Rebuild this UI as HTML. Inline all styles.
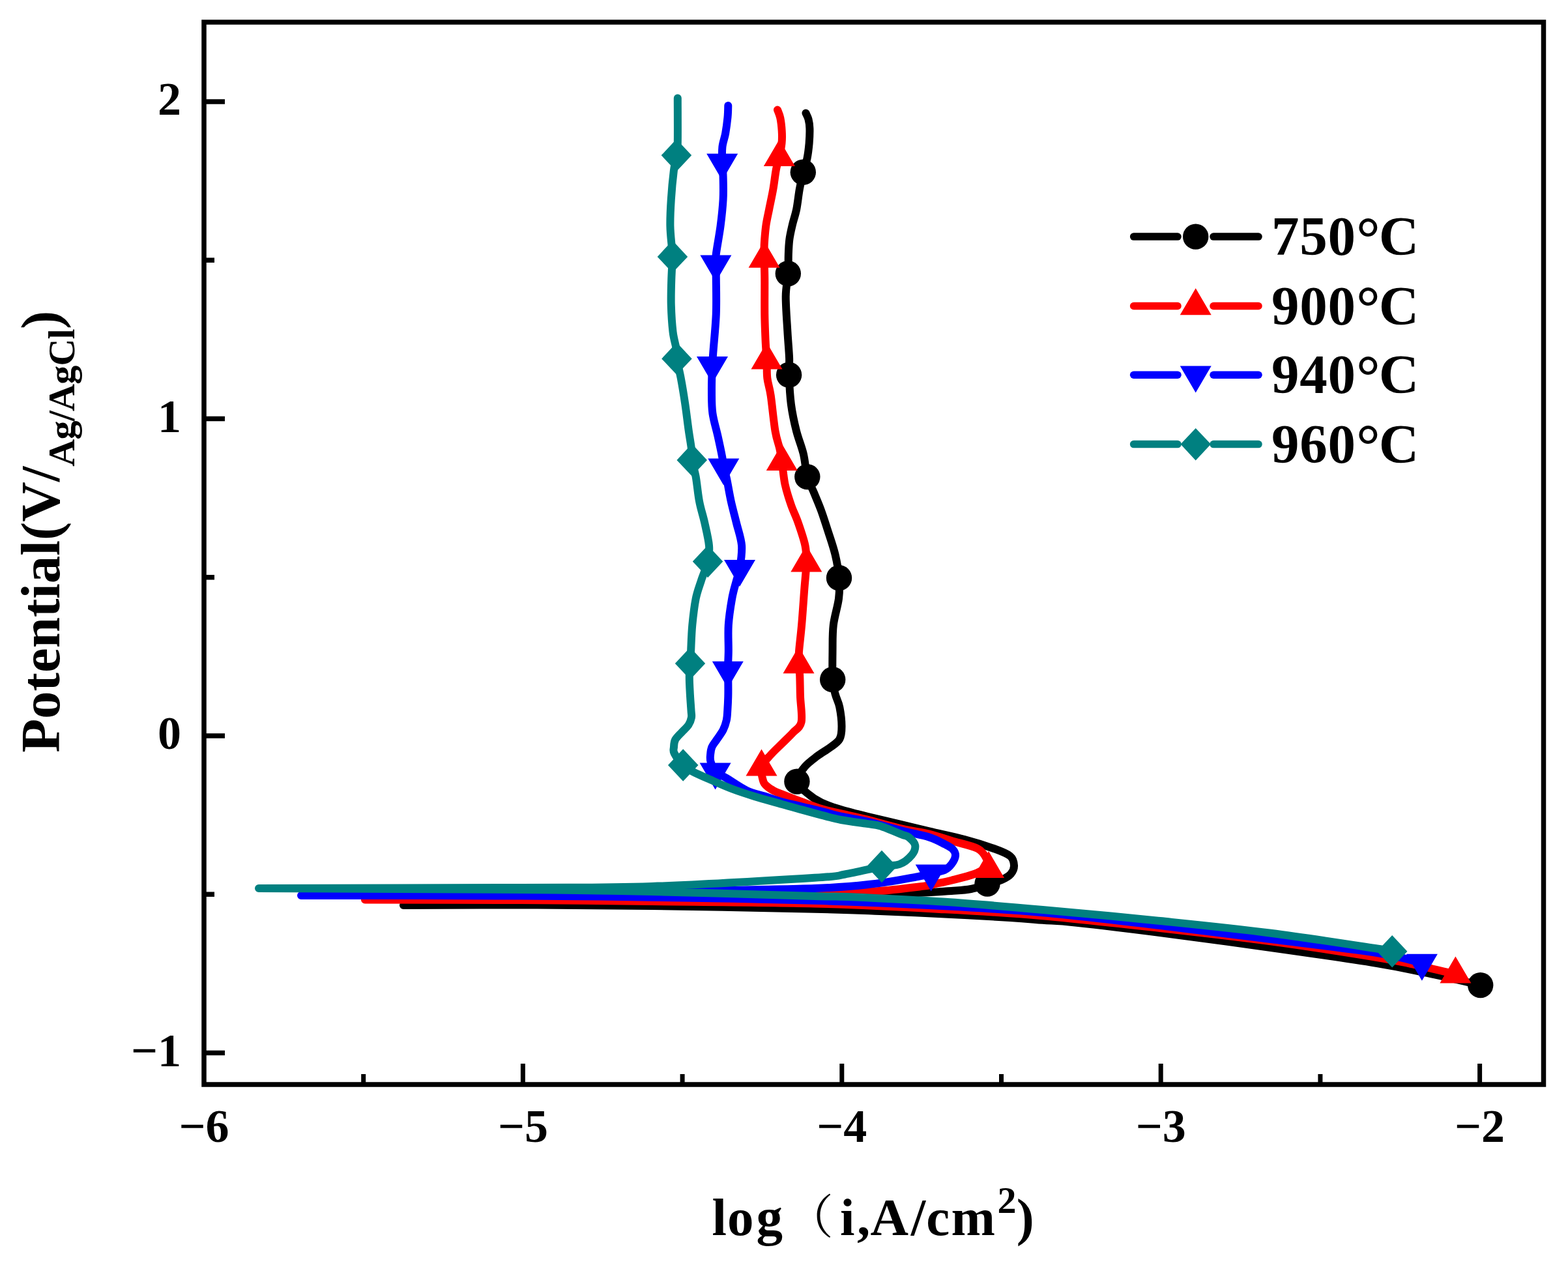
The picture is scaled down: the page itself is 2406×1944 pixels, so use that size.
<!DOCTYPE html><html><head><meta charset="utf-8"><title>Polarization curves</title><style>html,body{margin:0;padding:0;background:#fff;}svg{display:block;}text{font-family:"Liberation Serif","Times New Roman","Noto Serif CJK SC",serif;font-weight:bold;fill:#000;}</style></head><body>
<svg width="2406" height="1944" viewBox="0 0 2406 1944">
<rect x="0" y="0" width="2406" height="1944" fill="#fff"/>
<path d="M2271.7,1511.6C2258.1,1508.5 2216.4,1498.6 2190.0,1493.0C2163.6,1487.4 2153.0,1484.5 2113.0,1478.0C2073.0,1471.5 2005.5,1461.8 1950.0,1454.0C1894.5,1446.2 1830.0,1437.4 1780.0,1431.0C1730.0,1424.6 1680.0,1418.7 1650.0,1415.5C1620.0,1412.3 1616.7,1413.0 1600.0,1411.8C1583.3,1410.5 1575.0,1409.6 1550.0,1408.0C1525.0,1406.4 1483.3,1404.1 1450.0,1402.4C1416.7,1400.7 1383.3,1399.3 1350.0,1398.0C1316.7,1396.7 1308.3,1396.1 1250.0,1394.8C1191.7,1393.5 1075.0,1391.0 1000.0,1390.0C925.0,1389.0 863.5,1388.7 800.0,1388.5C736.5,1388.3 649.2,1388.9 619.0,1389.0C649.2,1388.6 736.5,1387.2 800.0,1386.5C863.5,1385.8 925.0,1385.9 1000.0,1384.5C1075.0,1383.1 1185.0,1380.2 1250.0,1378.0C1315.0,1375.8 1355.0,1372.8 1390.0,1371.0C1425.0,1369.2 1443.3,1368.2 1460.0,1367.0C1476.7,1365.8 1480.8,1365.7 1490.0,1364.0C1499.2,1362.3 1507.2,1359.3 1515.0,1357.0C1522.8,1354.7 1531.0,1352.7 1537.0,1350.0C1543.0,1347.3 1547.8,1344.7 1551.0,1341.0C1554.2,1337.3 1556.2,1332.6 1556.0,1328.0C1555.8,1323.4 1555.2,1317.8 1550.0,1313.5C1544.8,1309.2 1536.7,1306.2 1525.0,1302.0C1513.3,1297.8 1496.6,1292.4 1480.0,1288.0C1463.4,1283.6 1441.6,1279.2 1425.6,1275.4C1409.6,1271.6 1399.9,1269.2 1384.0,1265.4C1368.1,1261.6 1345.5,1256.4 1330.0,1252.6C1314.5,1248.8 1302.3,1245.8 1290.7,1242.3C1279.1,1238.8 1269.1,1235.5 1260.5,1231.4C1251.9,1227.3 1245.6,1222.9 1239.3,1217.5C1233.0,1212.1 1223.7,1205.8 1222.9,1199.1C1222.1,1192.3 1229.3,1183.5 1234.5,1177.0C1239.7,1170.5 1247.6,1165.1 1254.1,1160.1C1260.6,1155.1 1267.9,1151.3 1273.6,1147.0C1279.3,1142.7 1285.3,1139.4 1288.3,1134.0C1291.3,1128.6 1291.5,1122.7 1291.5,1114.5C1291.5,1106.3 1289.9,1093.2 1288.3,1085.1C1286.7,1076.9 1283.6,1072.6 1281.8,1065.6C1280.0,1058.5 1278.4,1053.8 1277.7,1042.8C1277.0,1031.8 1277.3,1013.6 1277.5,999.6C1277.7,985.6 1277.2,972.5 1278.8,959.0C1280.4,945.5 1285.5,930.4 1287.0,918.4C1288.5,906.4 1288.4,898.0 1287.5,886.7C1286.6,875.4 1284.3,862.6 1281.5,850.7C1278.7,838.8 1274.3,826.8 1270.7,815.5C1267.1,804.2 1263.5,792.9 1259.9,783.0C1256.3,773.1 1252.5,764.6 1249.0,756.0C1245.5,747.4 1241.5,741.5 1238.8,731.6C1236.1,721.7 1235.6,708.1 1232.8,696.4C1230.0,684.7 1225.2,673.8 1222.0,661.2C1218.8,648.6 1215.8,634.9 1213.9,620.6C1212.0,606.3 1211.1,587.1 1210.6,575.3C1210.1,563.5 1211.5,560.6 1211.1,549.6C1210.7,538.6 1209.3,524.8 1208.4,509.0C1207.5,493.2 1205.6,469.7 1205.7,454.8C1205.8,439.9 1208.6,430.3 1209.3,419.7C1210.0,409.1 1209.5,399.7 1209.8,391.0C1210.1,382.3 1210.3,375.5 1211.3,367.7C1212.3,359.9 1214.2,352.2 1216.0,344.4C1217.8,336.6 1220.4,330.1 1222.2,321.0C1224.0,311.9 1225.2,299.4 1226.9,290.0C1228.6,280.6 1230.4,272.1 1232.3,264.3C1234.2,256.5 1237.0,250.4 1238.5,243.0C1240.0,235.6 1240.9,227.7 1241.6,220.0C1242.2,212.3 1242.6,203.2 1242.4,197.0C1242.2,190.8 1241.5,186.9 1240.5,183.0C1239.5,179.1 1237.2,175.1 1236.5,173.5" fill="none" stroke="#000000" stroke-width="12" stroke-linejoin="round" stroke-linecap="round"/>
<circle cx="2271.7" cy="1511.6" r="19.7" fill="#000000"/>
<circle cx="1515.0" cy="1356.0" r="19.7" fill="#000000"/>
<circle cx="1222.9" cy="1199.1" r="19.7" fill="#000000"/>
<circle cx="1277.7" cy="1042.8" r="19.7" fill="#000000"/>
<circle cx="1287.5" cy="886.7" r="19.7" fill="#000000"/>
<circle cx="1238.8" cy="731.6" r="19.7" fill="#000000"/>
<circle cx="1210.6" cy="575.3" r="19.7" fill="#000000"/>
<circle cx="1209.3" cy="419.7" r="19.7" fill="#000000"/>
<circle cx="1232.3" cy="264.3" r="19.7" fill="#000000"/>
<path d="M2233.4,1494.8C2222.8,1492.3 2190.1,1484.3 2170.0,1480.0C2149.9,1475.7 2149.7,1475.0 2113.0,1469.0C2076.3,1463.0 2005.5,1451.8 1950.0,1444.3C1894.5,1436.8 1838.3,1430.5 1780.0,1424.0C1721.7,1417.5 1655.0,1410.0 1600.0,1405.2C1545.0,1400.4 1508.3,1398.4 1450.0,1395.3C1391.7,1392.2 1325.0,1388.5 1250.0,1386.4C1175.0,1384.4 1075.0,1383.9 1000.0,1383.0C925.0,1382.1 873.3,1381.4 800.0,1381.0C726.7,1380.6 600.0,1380.6 560.0,1380.5C600.0,1380.2 726.7,1379.3 800.0,1378.5C873.3,1377.7 922.7,1377.1 1000.0,1375.5C1077.3,1373.9 1206.8,1370.3 1264.0,1369.0C1321.2,1367.7 1317.4,1369.1 1343.0,1367.5C1368.6,1365.9 1402.0,1361.5 1417.5,1359.6C1433.0,1357.7 1428.9,1357.5 1436.0,1356.0C1443.1,1354.5 1450.2,1353.2 1460.0,1350.7C1469.8,1348.2 1485.5,1344.5 1495.0,1341.0C1504.5,1337.5 1513.3,1331.8 1517.0,1330.0C1516.5,1328.0 1516.8,1322.7 1514.0,1318.0C1511.2,1313.3 1509.0,1306.7 1500.0,1302.0C1491.0,1297.3 1472.4,1293.7 1460.0,1290.0C1447.6,1286.3 1438.3,1282.7 1425.6,1279.6C1412.9,1276.5 1399.9,1275.3 1384.0,1271.6C1368.1,1267.9 1345.5,1261.3 1330.0,1257.4C1314.5,1253.5 1302.3,1251.0 1290.7,1248.3C1279.1,1245.6 1270.6,1244.1 1260.5,1241.1C1250.4,1238.1 1240.3,1234.0 1230.2,1230.2C1220.1,1226.4 1207.1,1221.3 1200.0,1218.5C1192.9,1215.7 1191.6,1215.6 1187.7,1213.5C1183.8,1211.4 1179.3,1208.6 1176.5,1206.0C1173.7,1203.4 1172.3,1202.9 1171.0,1198.0C1169.7,1193.1 1166.6,1183.3 1168.5,1176.7C1170.4,1170.1 1177.1,1164.4 1182.4,1158.4C1187.7,1152.4 1194.6,1146.2 1200.3,1140.5C1206.0,1134.8 1211.7,1129.6 1216.6,1124.2C1221.5,1118.8 1227.7,1117.1 1229.6,1107.9C1231.5,1098.7 1228.4,1080.8 1228.0,1068.9C1227.6,1057.0 1227.6,1044.5 1227.2,1036.3C1226.8,1028.1 1225.7,1025.6 1225.5,1019.5C1225.3,1013.4 1225.2,1009.7 1226.0,999.6C1226.8,989.5 1228.7,974.8 1230.1,959.0C1231.5,943.2 1233.0,920.6 1234.2,904.8C1235.4,888.9 1237.1,875.2 1237.3,863.9C1237.5,852.6 1237.6,847.5 1235.5,837.2C1233.4,826.9 1228.3,812.4 1224.7,802.0C1221.1,791.6 1217.3,784.8 1213.9,774.9C1210.5,765.0 1206.8,753.5 1204.4,742.4C1202.1,731.3 1201.2,717.2 1199.8,708.2C1198.4,699.2 1198.0,696.1 1196.3,688.3C1194.6,680.5 1191.8,674.8 1189.5,661.2C1187.2,647.7 1184.7,620.5 1182.7,607.0C1180.7,593.5 1178.3,589.0 1177.3,580.0C1176.3,571.0 1177.0,562.4 1176.5,552.8C1176.0,543.2 1175.1,534.3 1174.6,522.5C1174.1,510.7 1173.5,497.7 1173.3,481.9C1173.1,466.1 1173.4,441.9 1173.3,427.8C1173.2,413.7 1172.7,404.6 1172.6,397.1C1172.5,389.6 1172.4,387.9 1172.5,383.0C1172.6,378.1 1172.7,374.1 1173.2,367.7C1173.7,361.3 1174.4,352.2 1175.6,344.4C1176.8,336.6 1178.4,330.1 1180.2,321.0C1182.0,311.9 1184.6,300.3 1186.4,290.0C1188.2,279.7 1189.5,267.1 1191.1,259.0C1192.7,250.9 1194.4,247.8 1195.8,241.3C1197.2,234.8 1198.8,226.7 1199.5,220.0C1200.2,213.3 1200.1,207.5 1199.7,201.0C1199.3,194.5 1198.4,186.4 1197.3,181.0C1196.2,175.6 1193.7,170.6 1193.0,168.5" fill="none" stroke="#ff0000" stroke-width="12" stroke-linejoin="round" stroke-linecap="round"/>
<polygon points="2233.4,1467.5 2257.4,1508.5 2209.4,1508.5" fill="#ff0000"/>
<polygon points="1517.0,1306.1 1541.0,1347.1 1493.0,1347.1" fill="#ff0000"/>
<polygon points="1168.5,1149.4 1192.5,1190.4 1144.5,1190.4" fill="#ff0000"/>
<polygon points="1225.5,992.2 1249.5,1033.2 1201.5,1033.2" fill="#ff0000"/>
<polygon points="1237.3,836.6 1261.3,877.6 1213.3,877.6" fill="#ff0000"/>
<polygon points="1199.8,680.9 1223.8,721.9 1175.8,721.9" fill="#ff0000"/>
<polygon points="1176.5,525.5 1200.5,566.5 1152.5,566.5" fill="#ff0000"/>
<polygon points="1172.6,369.8 1196.6,410.8 1148.6,410.8" fill="#ff0000"/>
<polygon points="1195.8,214.0 1219.8,255.0 1171.8,255.0" fill="#ff0000"/>
<path d="M2181.9,1477.5C2170.4,1474.9 2151.7,1468.1 2113.0,1462.0C2074.3,1455.9 2005.5,1448.0 1950.0,1441.0C1894.5,1434.0 1838.3,1426.8 1780.0,1420.0C1721.7,1413.2 1655.0,1405.3 1600.0,1400.3C1545.0,1395.3 1508.3,1393.3 1450.0,1390.2C1391.7,1387.1 1325.0,1384.0 1250.0,1381.8C1175.0,1379.5 1075.0,1377.9 1000.0,1376.7C925.0,1375.5 889.7,1375.0 800.0,1374.5C710.3,1374.0 518.3,1374.1 462.0,1374.0C518.3,1373.7 710.3,1373.0 800.0,1372.0C889.7,1371.0 925.0,1369.5 1000.0,1368.0C1075.0,1366.5 1192.8,1365.0 1250.0,1363.0C1307.2,1361.0 1316.6,1358.9 1343.0,1355.9C1369.4,1352.9 1393.9,1347.7 1408.2,1345.1C1422.5,1342.5 1421.8,1341.8 1428.7,1340.1C1435.6,1338.4 1444.6,1337.0 1449.8,1334.7C1455.0,1332.4 1457.3,1329.6 1460.0,1326.0C1462.7,1322.4 1465.7,1316.8 1466.0,1313.0C1466.3,1309.2 1464.7,1305.9 1462.0,1303.0C1459.3,1300.1 1456.1,1298.6 1450.0,1295.5C1443.9,1292.4 1436.6,1288.0 1425.6,1284.5C1414.6,1281.0 1399.9,1278.6 1384.0,1274.6C1368.1,1270.6 1345.5,1264.1 1330.0,1260.4C1314.5,1256.7 1302.3,1255.2 1290.7,1252.6C1279.1,1250.0 1270.6,1247.2 1260.5,1244.7C1250.4,1242.2 1240.3,1239.9 1230.2,1237.5C1220.1,1235.1 1209.4,1232.8 1200.0,1230.2C1190.6,1227.6 1182.8,1224.7 1173.8,1221.8C1164.8,1218.9 1155.6,1217.5 1145.8,1212.9C1136.0,1208.3 1122.8,1198.8 1114.8,1194.0C1106.8,1189.2 1101.6,1188.2 1097.6,1184.0C1093.5,1179.8 1091.8,1173.0 1090.5,1168.6C1089.2,1164.2 1089.8,1161.1 1090.1,1157.4C1090.4,1153.7 1090.8,1150.0 1092.4,1146.2C1094.0,1142.5 1096.9,1139.3 1099.8,1134.9C1102.7,1130.5 1107.1,1125.0 1109.6,1120.0C1112.1,1115.0 1113.7,1110.0 1114.8,1105.0C1115.9,1100.0 1115.9,1096.0 1116.3,1090.0C1116.7,1084.0 1117.1,1076.5 1117.3,1068.9C1117.5,1061.3 1117.4,1051.2 1117.3,1044.4C1117.2,1037.7 1116.7,1035.9 1116.8,1028.4C1116.9,1020.9 1117.6,1011.2 1117.8,999.6C1118.0,988.0 1116.9,972.5 1117.8,959.0C1118.7,945.5 1121.2,929.7 1123.2,918.4C1125.2,907.1 1127.9,898.9 1129.9,891.3C1131.9,883.7 1133.6,881.7 1135.0,872.7C1136.4,863.7 1138.9,849.0 1138.1,837.2C1137.2,825.4 1132.6,813.3 1129.9,802.0C1127.2,790.7 1124.3,780.8 1121.8,769.5C1119.3,758.2 1116.9,743.0 1115.0,734.3C1113.1,725.6 1111.4,722.5 1110.3,717.1C1109.2,711.7 1109.8,709.8 1108.3,701.8C1106.8,693.8 1104.0,680.6 1101.5,669.3C1099.0,658.0 1095.0,645.6 1093.4,634.1C1091.8,622.6 1092.1,612.2 1092.0,600.0C1091.9,587.8 1092.5,571.5 1093.0,560.8C1093.5,550.1 1093.7,549.1 1094.7,536.0C1095.7,522.9 1098.1,499.9 1098.8,481.9C1099.5,463.9 1098.9,440.6 1098.8,427.8C1098.7,415.0 1098.4,411.4 1098.4,405.1C1098.4,398.8 1097.6,399.6 1098.8,389.9C1100.0,380.1 1103.8,360.6 1105.6,346.6C1107.4,332.6 1108.9,318.6 1109.6,306.0C1110.3,293.4 1109.8,280.2 1109.6,270.8C1109.4,261.4 1108.4,257.1 1108.2,249.5C1108.0,241.9 1107.6,233.0 1108.4,225.5C1109.2,218.0 1111.9,212.1 1113.2,204.5C1114.5,196.9 1115.8,187.1 1116.5,180.0C1117.2,172.9 1117.2,165.0 1117.3,162.0" fill="none" stroke="#0000ff" stroke-width="12" stroke-linejoin="round" stroke-linecap="round"/>
<polygon points="2181.9,1504.8 2205.9,1463.8 2157.9,1463.8" fill="#0000ff"/>
<polygon points="1428.7,1367.4 1452.7,1326.4 1404.7,1326.4" fill="#0000ff"/>
<polygon points="1097.6,1211.4 1121.6,1170.4 1073.6,1170.4" fill="#0000ff"/>
<polygon points="1116.8,1055.7 1140.8,1014.7 1092.8,1014.7" fill="#0000ff"/>
<polygon points="1135.0,900.0 1159.0,859.0 1111.0,859.0" fill="#0000ff"/>
<polygon points="1110.3,744.4 1134.3,703.4 1086.3,703.4" fill="#0000ff"/>
<polygon points="1093.0,588.1 1117.0,547.1 1069.0,547.1" fill="#0000ff"/>
<polygon points="1098.4,432.4 1122.4,391.4 1074.4,391.4" fill="#0000ff"/>
<polygon points="1108.2,276.8 1132.2,235.8 1084.2,235.8" fill="#0000ff"/>
<path d="M2136.2,1459.8C2132.3,1459.1 2144.0,1460.2 2113.0,1455.5C2082.0,1450.8 2005.5,1438.8 1950.0,1431.7C1894.5,1424.6 1838.3,1419.0 1780.0,1413.0C1721.7,1407.0 1655.0,1400.9 1600.0,1396.0C1545.0,1391.1 1500.0,1387.1 1450.0,1383.8C1400.0,1380.5 1333.3,1377.5 1300.0,1376.0C1266.7,1374.5 1300.0,1376.3 1250.0,1375.0C1200.0,1373.7 1075.0,1369.7 1000.0,1368.0C925.0,1366.3 900.5,1365.8 800.0,1365.0C699.5,1364.2 464.2,1363.3 397.0,1363.0C464.2,1362.8 699.5,1362.5 800.0,1362.0C900.5,1361.5 925.0,1362.5 1000.0,1360.0C1075.0,1357.5 1200.6,1349.9 1250.0,1346.8C1299.4,1343.7 1279.3,1344.4 1296.5,1341.5C1313.7,1338.6 1339.0,1332.2 1353.0,1329.6C1367.0,1327.0 1372.6,1328.9 1380.3,1326.0C1388.0,1323.1 1394.9,1316.9 1398.9,1312.1C1402.9,1307.3 1404.9,1301.5 1404.2,1297.0C1403.5,1292.5 1398.4,1287.8 1395.0,1285.0C1391.6,1282.2 1391.2,1283.2 1383.7,1280.3C1376.2,1277.3 1359.2,1270.0 1350.3,1267.3C1341.3,1264.6 1339.9,1265.5 1330.0,1263.9C1320.1,1262.4 1302.3,1260.2 1290.7,1258.0C1279.1,1255.8 1270.6,1253.2 1260.5,1250.6C1250.4,1248.0 1240.3,1245.2 1230.2,1242.4C1220.1,1239.6 1212.2,1237.5 1200.0,1234.0C1187.8,1230.5 1169.8,1225.6 1157.0,1221.7C1144.2,1217.8 1134.7,1214.7 1123.5,1210.5C1112.3,1206.3 1100.2,1200.8 1090.0,1196.3C1079.8,1191.8 1069.4,1187.3 1062.4,1183.6C1055.4,1179.9 1052.8,1178.5 1048.2,1173.9C1043.6,1169.3 1037.1,1160.5 1034.7,1155.9C1032.3,1151.3 1033.8,1149.7 1034.0,1146.2C1034.2,1142.7 1034.2,1138.7 1036.2,1134.9C1038.2,1131.2 1042.5,1127.4 1045.9,1123.7C1049.3,1120.0 1053.9,1116.2 1056.4,1112.5C1058.9,1108.8 1060.2,1105.0 1060.9,1101.2C1061.6,1097.5 1060.9,1096.8 1060.5,1090.0C1060.1,1083.2 1059.0,1069.7 1058.6,1060.7C1058.1,1051.8 1057.7,1043.4 1057.8,1036.3C1057.9,1029.2 1058.6,1024.1 1059.0,1018.0C1059.4,1011.9 1059.5,1009.4 1060.1,999.6C1060.6,989.8 1061.0,972.5 1062.3,959.0C1063.6,945.5 1065.5,929.7 1067.7,918.4C1070.0,907.1 1072.7,900.8 1075.8,891.3C1078.9,881.8 1084.1,870.5 1086.1,861.5C1088.1,852.5 1088.8,847.1 1088.0,837.2C1087.2,827.3 1083.7,813.3 1081.2,802.0C1078.7,790.7 1075.3,781.2 1073.1,769.5C1070.8,757.8 1069.6,742.2 1067.7,731.6C1065.8,721.0 1062.8,713.1 1061.7,705.9C1060.6,698.7 1061.7,695.8 1060.9,688.3C1060.1,680.8 1058.4,672.5 1056.8,661.2C1055.2,649.9 1053.4,634.1 1051.4,620.6C1049.4,607.1 1046.9,591.7 1044.7,580.0C1042.5,568.3 1039.5,557.7 1038.4,550.4C1037.3,543.1 1038.9,542.9 1037.9,536.0C1036.9,529.1 1033.8,520.3 1032.5,509.0C1031.2,497.7 1030.2,481.9 1029.8,468.4C1029.4,454.9 1029.9,440.2 1030.3,427.8C1030.7,415.4 1031.8,401.6 1031.9,393.9C1032.0,386.2 1031.7,389.7 1031.1,381.8C1030.5,373.9 1028.6,359.2 1028.4,346.6C1028.2,334.0 1028.9,320.0 1029.8,306.0C1030.7,292.0 1032.4,273.9 1033.8,262.6C1035.2,251.3 1036.9,245.5 1037.9,238.3C1038.9,231.1 1039.5,233.9 1039.8,219.3C1040.1,204.7 1039.8,162.0 1039.8,150.5" fill="none" stroke="#008080" stroke-width="12" stroke-linejoin="round" stroke-linecap="round"/>
<polygon points="2136.2,1435.0 2159.4,1459.8 2136.2,1484.5 2112.9,1459.8" fill="#008080"/>
<polygon points="1353.0,1304.8 1376.2,1329.6 1353.0,1354.3 1329.8,1329.6" fill="#008080"/>
<polygon points="1048.2,1149.2 1071.5,1173.9 1048.2,1198.7 1025.0,1173.9" fill="#008080"/>
<polygon points="1059.0,993.2 1082.2,1018.0 1059.0,1042.8 1035.8,1018.0" fill="#008080"/>
<polygon points="1086.1,836.8 1109.3,861.5 1086.1,886.2 1062.8,861.5" fill="#008080"/>
<polygon points="1061.7,681.1 1085.0,705.9 1061.7,730.6 1038.5,705.9" fill="#008080"/>
<polygon points="1038.4,525.6 1061.7,550.4 1038.4,575.1 1015.2,550.4" fill="#008080"/>
<polygon points="1031.9,369.1 1055.2,393.9 1031.9,418.6 1008.7,393.9" fill="#008080"/>
<polygon points="1037.9,213.6 1061.2,238.3 1037.9,263.1 1014.7,238.3" fill="#008080"/>
<rect x="313" y="34" width="2055.5" height="1630" fill="none" stroke="#000" stroke-width="7.5" stroke-linecap="square"/>
<line x1="802.4" y1="1664" x2="802.4" y2="1632" stroke="#000" stroke-width="7"/>
<line x1="1291.8" y1="1664" x2="1291.8" y2="1632" stroke="#000" stroke-width="7"/>
<line x1="1781.2" y1="1664" x2="1781.2" y2="1632" stroke="#000" stroke-width="7"/>
<line x1="2270.6" y1="1664" x2="2270.6" y2="1632" stroke="#000" stroke-width="7"/>
<line x1="557.7" y1="1664" x2="557.7" y2="1648" stroke="#000" stroke-width="7"/>
<line x1="1047.1" y1="1664" x2="1047.1" y2="1648" stroke="#000" stroke-width="7"/>
<line x1="1536.5" y1="1664" x2="1536.5" y2="1648" stroke="#000" stroke-width="7"/>
<line x1="2025.9" y1="1664" x2="2025.9" y2="1648" stroke="#000" stroke-width="7"/>
<line x1="313" y1="156.0" x2="345" y2="156.0" stroke="#000" stroke-width="7.5"/>
<line x1="313" y1="642.5" x2="345" y2="642.5" stroke="#000" stroke-width="7.5"/>
<line x1="313" y1="1129.0" x2="345" y2="1129.0" stroke="#000" stroke-width="7.5"/>
<line x1="313" y1="1615.5" x2="345" y2="1615.5" stroke="#000" stroke-width="7.5"/>
<line x1="313" y1="399.2" x2="329" y2="399.2" stroke="#000" stroke-width="7.5"/>
<line x1="313" y1="885.8" x2="329" y2="885.8" stroke="#000" stroke-width="7.5"/>
<line x1="313" y1="1372.2" x2="329" y2="1372.2" stroke="#000" stroke-width="7.5"/>
<text x="278" y="176.0" font-size="72" text-anchor="end">2</text>
<text x="278" y="662.5" font-size="72" text-anchor="end">1</text>
<text x="278" y="1149.0" font-size="72" text-anchor="end">0</text>
<text x="278" y="1635.5" font-size="72" text-anchor="end">−1</text>
<text x="313.0" y="1752" font-size="72" text-anchor="middle">−6</text>
<text x="802.4" y="1752" font-size="72" text-anchor="middle">−5</text>
<text x="1291.8" y="1752" font-size="72" text-anchor="middle">−4</text>
<text x="1781.2" y="1752" font-size="72" text-anchor="middle">−3</text>
<text x="2270.6" y="1752" font-size="72" text-anchor="middle">−2</text>
<line x1="1739.6" y1="363.1" x2="1807" y2="363.1" stroke="#000000" stroke-width="11.5" stroke-linecap="round"/>
<line x1="1862" y1="363.1" x2="1931" y2="363.1" stroke="#000000" stroke-width="11.5" stroke-linecap="round"/>
<circle cx="1834.7" cy="363.1" r="19.7" fill="#000000"/>
<text x="1951" y="391.1" font-size="85" letter-spacing="0.8">750<tspan font-size="92" dy="4.7">°</tspan><tspan dy="-4.7" dx="-2.8">C</tspan></text>
<line x1="1739.6" y1="469.5" x2="1807" y2="469.5" stroke="#ff0000" stroke-width="11.5" stroke-linecap="round"/>
<line x1="1862" y1="469.5" x2="1931" y2="469.5" stroke="#ff0000" stroke-width="11.5" stroke-linecap="round"/>
<polygon points="1834.7,442.2 1858.7,483.2 1810.7,483.2" fill="#ff0000"/>
<text x="1951" y="497.5" font-size="85" letter-spacing="0.8">900<tspan font-size="92" dy="4.7">°</tspan><tspan dy="-4.7" dx="-2.8">C</tspan></text>
<line x1="1739.6" y1="575.2" x2="1807" y2="575.2" stroke="#0000ff" stroke-width="11.5" stroke-linecap="round"/>
<line x1="1862" y1="575.2" x2="1931" y2="575.2" stroke="#0000ff" stroke-width="11.5" stroke-linecap="round"/>
<polygon points="1834.7,602.5 1858.7,561.5 1810.7,561.5" fill="#0000ff"/>
<text x="1951" y="603.2" font-size="85" letter-spacing="0.8">940<tspan font-size="92" dy="4.7">°</tspan><tspan dy="-4.7" dx="-2.8">C</tspan></text>
<line x1="1739.6" y1="681.6" x2="1807" y2="681.6" stroke="#008080" stroke-width="11.5" stroke-linecap="round"/>
<line x1="1862" y1="681.6" x2="1931" y2="681.6" stroke="#008080" stroke-width="11.5" stroke-linecap="round"/>
<polygon points="1834.7,656.9 1858.0,681.6 1834.7,706.4 1811.5,681.6" fill="#008080"/>
<text x="1951" y="709.6" font-size="85" letter-spacing="0.8">960<tspan font-size="92" dy="4.7">°</tspan><tspan dy="-4.7" dx="-2.8">C</tspan></text>
<text y="1895" font-size="81"><tspan x="1092.5 1116.1 1160.6">log</tspan></text>
<text x="1206.8" y="1892.4" font-size="72" style="font-family:'Liberation Serif','Noto Serif CJK SC',serif;font-weight:normal">（</text>
<text y="1895" font-size="81"><tspan x="1288.9 1314.9 1335.4 1397.8 1421.3 1459.6">i,A/cm</tspan><tspan x="1530.6" y="1861" font-size="58">2</tspan><tspan x="1559.7" y="1895">)</tspan></text>
<text transform="translate(91,1154.8) rotate(-90)" font-size="85">Potential(V/<tspan font-size="58" dy="22.75" letter-spacing="-0.75">Ag/AgCl</tspan><tspan dy="-22.75">)</tspan></text>
</svg></body></html>
